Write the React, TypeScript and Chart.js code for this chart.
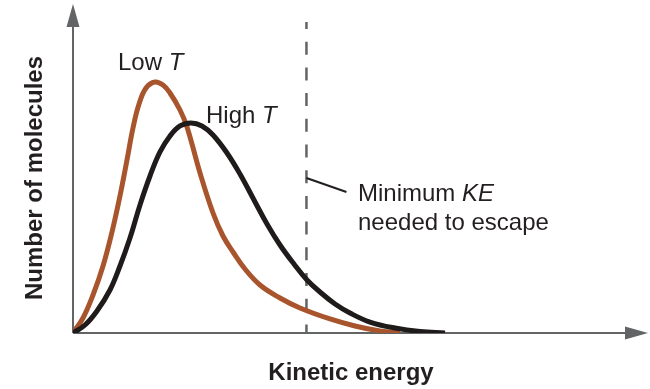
import React, { useEffect, useRef } from "react";
import { Chart, registerables } from "chart.js";

Chart.register(...registerables);

// Kinetic energy (x) and number of molecules (y), arbitrary units 0..100
const lowTEnergy = [0, 1.74, 3.48, 5.22, 6.78, 8.17, 9.39, 10.43, 11.48, 12.7, 14.26, 15.65, 16.87, 18.61, 19.83, 22.09, 24.35, 26.09, 27.83, 29.91, 32.52, 36.0, 39.48, 44.7, 49.04, 53.39, 56.87];
const lowTCount = [0, 4.56, 11.55, 20.36, 30.7, 41.64, 52.58, 62.31, 69.6, 74.47, 76.29, 75.38, 72.95, 67.78, 62.61, 48.63, 36.47, 29.48, 24.62, 19.45, 14.59, 10.64, 7.6, 4.26, 2.13, 0.61, 0];

const highTEnergy = [0, 2.09, 4.17, 6.43, 8.17, 9.91, 11.65, 13.39, 15.13, 16.87, 18.61, 20.52, 22.43, 24.35, 26.78, 29.04, 31.48, 33.74, 36.0, 38.43, 40.7, 42.96, 45.57, 48.17, 51.65, 56.0, 60.35, 64.7];
const highTCount = [0, 2.43, 6.69, 13.07, 20.36, 28.88, 38.91, 47.72, 55.02, 59.88, 62.92, 63.83, 62.92, 60.18, 54.71, 48.33, 40.43, 33.13, 26.75, 20.97, 16.11, 12.46, 8.81, 6.08, 3.34, 1.52, 0.46, 0];

const minKE = 40.6;

const seriesNames = ["Low T", "High T"];
const xTitle = "Kinetic energy";
const yTitle = "Number of molecules";
const noteLine1 = "Minimum ";
const noteLine1Italic = "KE";
const noteLine2 = "needed to escape";

const FONT = '"Liberation Sans", Arial, Helvetica, sans-serif';
const AXIS = "#636466";
const TEXT = "#231f20";
const BROWN = "#a8552d";
const BLACK = "#1f1b1a";

function pts(xs: number[], ys: number[]) {
  return xs.map((x, i) => ({ x, y: ys[i] }));
}

function labelWithItalic(ctx: CanvasRenderingContext2D, plain: string, ital: string, x: number, y: number, size: number) {
  ctx.font = `${size}px ${FONT}`;
  ctx.fillText(plain, x, y);
  const w = ctx.measureText(plain).width;
  ctx.font = `italic ${size}px ${FONT}`;
  ctx.fillText(ital, x + w, y);
}

const decor = {
  id: "decor",
  beforeDatasetsDraw(chart: any) {
    const { ctx, chartArea, scales } = chart;
    const x0 = chartArea.left;
    const y0 = chartArea.bottom;
    ctx.save();
    ctx.strokeStyle = AXIS;
    ctx.fillStyle = AXIS;
    ctx.lineWidth = 2;
    ctx.beginPath();
    ctx.moveTo(x0, y0);
    ctx.lineTo(x0, chartArea.top + 22);
    ctx.moveTo(x0, y0);
    ctx.lineTo(chartArea.right - 22, y0);
    ctx.stroke();
    ctx.beginPath();
    ctx.moveTo(x0, chartArea.top);
    ctx.lineTo(x0 - 6.5, chartArea.top + 23);
    ctx.lineTo(x0 + 6.5, chartArea.top + 23);
    ctx.closePath();
    ctx.fill();
    ctx.beginPath();
    ctx.moveTo(chartArea.right, y0);
    ctx.lineTo(chartArea.right - 23, y0 - 6.5);
    ctx.lineTo(chartArea.right - 23, y0 + 6.5);
    ctx.closePath();
    ctx.fill();
    const xd = scales.x.getPixelForValue(minKE);
    ctx.lineWidth = 2.5;
    ctx.setLineDash([13, 12.7]);
    ctx.lineDashOffset = 6;
    ctx.beginPath();
    ctx.moveTo(xd, 22);
    ctx.lineTo(xd, y0);
    ctx.stroke();
    ctx.restore();
  },
  afterDraw(chart: any) {
    const { ctx, scales } = chart;
    const xd = scales.x.getPixelForValue(minKE);
    ctx.save();
    ctx.fillStyle = TEXT;
    ctx.textBaseline = "alphabetic";
    ctx.textAlign = "left";
    labelWithItalic(ctx, seriesNames[0].slice(0, -1), "T", 118, 70, 24);
    labelWithItalic(ctx, seriesNames[1].slice(0, -1), "T", 206, 123, 24);
    ctx.strokeStyle = TEXT;
    ctx.lineWidth = 2;
    ctx.beginPath();
    ctx.moveTo(xd, 178);
    ctx.lineTo(xd + 40, 192);
    ctx.stroke();
    labelWithItalic(ctx, noteLine1, noteLine1Italic, 358, 201, 24);
    ctx.font = `24px ${FONT}`;
    ctx.fillText(noteLine2, 358, 230);
    ctx.font = `bold 24px ${FONT}`;
    ctx.textAlign = "center";
    ctx.fillText(xTitle, 351, 380);
    ctx.translate(42, 178);
    ctx.rotate(-Math.PI / 2);
    ctx.fillText(yTitle, 0, 0);
    ctx.restore();
  },
};

export default function App() {
  const ref = useRef<HTMLCanvasElement | null>(null);
  useEffect(() => {
    if (!ref.current) return;
    const chart = new Chart(ref.current, {
      type: "line",
      data: {
        datasets: [
          {
            label: seriesNames[1],
            data: pts(highTEnergy, highTCount),
            borderColor: BLACK,
            borderWidth: 5,
            pointRadius: 0,
            tension: 0.4,
            fill: false,
          },
          {
            label: seriesNames[0],
            data: pts(lowTEnergy, lowTCount),
            borderColor: BROWN,
            borderWidth: 5,
            pointRadius: 0,
            tension: 0.4,
            fill: false,
          },
        ],
      },
      options: {
        animation: false,
        responsive: true,
        maintainAspectRatio: false,
        layout: { padding: { left: 73, right: 2, top: 4, bottom: 56 } },
        plugins: { legend: { display: false }, tooltip: { enabled: false } },
        scales: {
          x: { type: "linear", min: 0, max: 100, display: false },
          y: { type: "linear", min: 0, max: 100, display: false },
        },
      } as any,
      plugins: [decor],
    });
    return () => chart.destroy();
  }, []);
  return (
    <div style={{ position: "absolute", left: 0, top: 0, width: 650, height: 389, background: "#fff" }}>
      <canvas ref={ref} />
    </div>
  );
}
